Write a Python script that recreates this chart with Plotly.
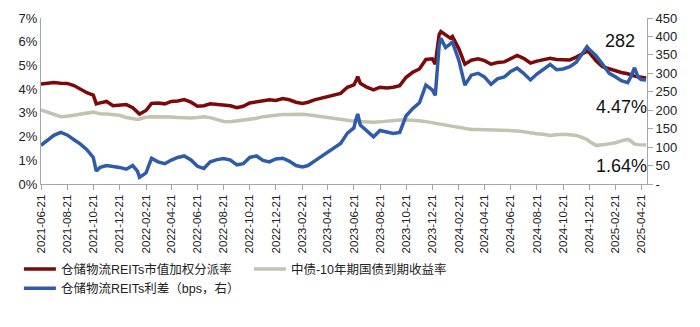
import plotly.graph_objects as go

dates = [
    "2021-06-21","2021-07-06","2021-07-21","2021-08-06","2021-08-21","2021-09-06","2021-09-21","2021-10-06",
    "2021-10-21","2021-10-28","2021-11-06","2021-11-21","2021-12-06","2021-12-21","2022-01-06","2022-01-21",
    "2022-02-01","2022-02-06","2022-02-21","2022-03-06","2022-03-21","2022-04-06","2022-04-21","2022-05-06",
    "2022-05-21","2022-06-06","2022-06-21","2022-07-06","2022-07-21","2022-08-06","2022-08-21","2022-09-06",
    "2022-09-21","2022-10-06","2022-10-21","2022-11-06","2022-11-21","2022-12-06","2022-12-21","2023-01-06",
    "2023-01-21","2023-02-06","2023-02-21","2023-03-06","2023-03-21","2023-04-06","2023-04-21","2023-05-06",
    "2023-05-21","2023-06-06","2023-06-21","2023-06-26","2023-06-30","2023-07-06","2023-07-21","2023-08-06",
    "2023-08-21","2023-09-06","2023-09-21","2023-10-06","2023-10-21","2023-11-06","2023-11-21","2023-12-06",
    "2023-12-21","2023-12-28","2024-01-06","2024-01-10","2024-01-21","2024-02-01","2024-02-06","2024-02-21",
    "2024-03-06","2024-03-21","2024-04-06","2024-04-21","2024-05-06","2024-05-21","2024-06-06","2024-06-21",
    "2024-07-06","2024-07-21","2024-08-06","2024-08-21","2024-09-06","2024-09-21","2024-10-06","2024-10-21",
    "2024-11-06","2024-11-21","2024-12-06","2024-12-16","2024-12-21","2025-01-06","2025-01-21","2025-02-06",
    "2025-02-21","2025-03-06","2025-03-21","2025-03-28","2025-04-06","2025-04-14","2025-04-21","2025-05-03",
]

# 仓储物流REITs市值加权分派率 (%)
reit_yield = [
    4.22,4.25,4.28,4.25,4.24,4.15,3.98,3.85,
    3.75,3.38,3.42,3.48,3.30,3.32,3.35,3.22,
    3.05,2.95,3.10,3.40,3.42,3.38,3.48,3.50,
    3.56,3.45,3.28,3.30,3.38,3.36,3.34,3.30,
    3.22,3.28,3.42,3.46,3.52,3.55,3.52,3.60,
    3.55,3.45,3.40,3.45,3.55,3.62,3.72,3.78,
    3.82,4.08,4.18,4.35,4.53,4.25,4.08,3.97,
    4.08,4.05,4.08,4.15,4.50,4.72,4.85,5.25,
    5.28,5.05,6.30,6.43,6.28,6.15,6.22,5.70,
    5.05,5.22,5.28,5.20,5.05,5.12,5.15,5.30,
    5.42,5.30,5.10,5.18,5.25,5.30,5.25,5.25,
    5.23,5.35,5.50,5.60,5.55,5.20,4.95,4.85,
    4.75,4.70,4.65,4.60,4.55,4.52,4.50,4.47,
]

# 中债-10年期国债到期收益率 (%)
cgb_10y = [
    3.12,3.02,2.92,2.84,2.86,2.90,2.93,2.98,
    3.03,3.00,2.96,2.95,2.92,2.90,2.80,2.74,
    2.72,2.74,2.82,2.84,2.84,2.84,2.83,2.80,
    2.78,2.78,2.80,2.84,2.80,2.70,2.64,2.63,
    2.66,2.70,2.72,2.77,2.84,2.88,2.90,2.93,
    2.93,2.94,2.94,2.92,2.88,2.84,2.80,2.75,
    2.70,2.66,2.65,2.64,2.64,2.63,2.62,2.60,
    2.62,2.66,2.68,2.70,2.70,2.70,2.67,2.63,
    2.58,2.56,2.53,2.50,2.48,2.45,2.42,2.38,
    2.32,2.30,2.30,2.29,2.28,2.28,2.27,2.25,
    2.24,2.20,2.15,2.12,2.10,2.05,2.08,2.10,
    2.08,2.05,1.95,1.88,1.80,1.63,1.65,1.68,
    1.74,1.82,1.88,1.82,1.68,1.66,1.65,1.64,
]

# 仓储物流REITs利差 (bps)
spread_bps = [
    105,118,132,140,133,120,108,93,
    72,35,45,50,48,45,40,50,
    35,18,30,70,60,55,65,72,
    76,65,48,42,60,66,69,65,
    52,55,72,76,64,60,68,70,
    62,50,46,50,62,75,86,98,
    110,138,152,175,190,160,145,128,
    145,140,137,140,185,205,220,268,
    255,240,375,395,370,380,385,335,
    268,295,300,290,270,285,290,305,
    314,300,282,298,310,324,310,312,
    318,330,355,372,365,348,325,300,
    290,280,275,290,315,290,283,282,
]

names = ["仓储物流REITs市值加权分派率", "中债-10年期国债到期收益率", "仓储物流REITs利差（bps，右）"]
colors = ["#7B0A0A", "#C3C3B1", "#2F5CA8"]

y_ticks_right = [0, 50, 100, 150, 200, 250, 300, 350, 400, 450]
y_ticktext_right = ["-"] + [str(v) for v in y_ticks_right[1:]]

fig = go.Figure()
fig.add_trace(go.Scatter(x=dates, y=[v / 100 for v in reit_yield], name=names[0], mode="lines",
                         line=dict(color=colors[0], width=3.5)))
fig.add_trace(go.Scatter(x=dates, y=[v / 100 for v in cgb_10y], name=names[1], mode="lines",
                         line=dict(color=colors[1], width=3.5)))
fig.add_trace(go.Scatter(x=dates, y=spread_bps, name=names[2], mode="lines", yaxis="y2",
                         line=dict(color=colors[2], width=3.5)))

font_family = "Liberation Sans, Arial, Noto Sans CJK SC, sans-serif"

fig.update_layout(
    width=700, height=327,
    margin=dict(l=41, r=53, t=18, b=143, autoexpand=False),
    paper_bgcolor="white", plot_bgcolor="white",
    font=dict(family=font_family, size=12, color="#222222"),
    showlegend=True,
    legend=dict(orientation="h", x=0.027, xref="container", xanchor="left",
                y=0.222, yref="container", yanchor="top",
                entrywidth=183, entrywidthmode="pixels", itemwidth=32,
                font=dict(size=12.5, color="#222222"), tracegroupgap=0,
                bgcolor="rgba(0,0,0,0)"),
    xaxis=dict(type="date", range=["2021-06-21", "2025-05-05"], automargin=False,
               tick0="2021-06-21", dtick="M2", tickformat="%Y-%m-%d", tickangle=-90,
               showgrid=False, zeroline=False, showline=True, linecolor="#A6A6A6", linewidth=1,
               ticks="outside", ticklen=5, tickcolor="#A6A6A6",
               tickfont=dict(size=11.5, color="#222222")),
    yaxis=dict(range=[0, 0.07], dtick=0.01, tickformat=".0%", showgrid=False, zeroline=False,
               automargin=False, showline=True, linecolor="#A6A6A6", linewidth=1, ticks="",
               tickfont=dict(size=13, color="#222222")),
    yaxis2=dict(range=[0, 450], overlaying="y", side="right", tickvals=y_ticks_right,
                ticktext=y_ticktext_right, showgrid=False, zeroline=False, automargin=False,
                showline=True, linecolor="#A6A6A6", linewidth=1, ticks="outside", ticklen=5,
                tickcolor="#A6A6A6", tickfont=dict(size=13, color="#222222")),
    annotations=[
        dict(x=1.0, xref="paper", xanchor="right", y=spread_bps[-1] + 105, yref="y2",
             text=str(spread_bps[-1]), showarrow=False, font=dict(size=18, color="#111111"), xshift=-10),
        dict(x=1.0, xref="paper", xanchor="right", y=reit_yield[-1] / 100 - 0.0122, yref="y",
             text=f"{reit_yield[-1]:.2f}%", showarrow=False, font=dict(size=18, color="#111111"), xshift=2),
        dict(x=1.0, xref="paper", xanchor="right", y=cgb_10y[-1] / 100 - 0.0090, yref="y",
             text=f"{cgb_10y[-1]:.2f}%", showarrow=False, font=dict(size=18, color="#111111"), xshift=2),
    ],
)

fig.write_html("out.html")
